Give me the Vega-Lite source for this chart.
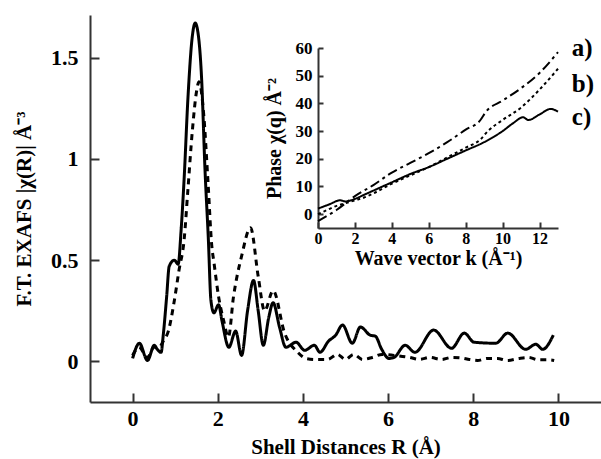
{
  "$schema": "https://vega.github.io/schema/vega-lite/v6.json",
  "width": 511,
  "height": 387,
  "autosize": {"type": "none"},
  "padding": {"left": 90, "top": 15, "right": 0, "bottom": 57},
  "background": "white",
  "config": {
    "view": {"stroke": null},
    "font": "Liberation Serif",
    "axis": {"grid": false, "domainColor": "#333", "tickColor": "#333", "labelColor": "black", "titleColor": "black", "labelFont": "Liberation Serif", "titleFont": "Liberation Serif", "labelFontWeight": "bold", "titleFontWeight": "bold"}
  },
  "datasets": {
    "main": [
      {"R": 0, "v": 0.015, "s": "solid"}, {"R": 0.16, "v": 0.09, "s": "solid"}, {"R": 0.35, "v": 0.005, "s": "solid"}, {"R": 0.51, "v": 0.08, "s": "solid"}, {"R": 0.58, "v": 0.06, "s": "solid"}, {"R": 0.67, "v": 0.045, "s": "solid"}, {"R": 0.72, "v": 0.13, "s": "solid"}, {"R": 0.8, "v": 0.32, "s": "solid"}, {"R": 0.86, "v": 0.47, "s": "solid"}, {"R": 0.98, "v": 0.5, "s": "solid"}, {"R": 1.07, "v": 0.48, "s": "solid"}, {"R": 1.14, "v": 0.65, "s": "solid"}, {"R": 1.21, "v": 0.9, "s": "solid"}, {"R": 1.3, "v": 1.3, "s": "solid"}, {"R": 1.4, "v": 1.6, "s": "solid"}, {"R": 1.47, "v": 1.67, "s": "solid"}, {"R": 1.55, "v": 1.6, "s": "solid"}, {"R": 1.62, "v": 1.4, "s": "solid"}, {"R": 1.7, "v": 0.95, "s": "solid"}, {"R": 1.78, "v": 0.6, "s": "solid"}, {"R": 1.84, "v": 0.3, "s": "solid"}, {"R": 1.91, "v": 0.24, "s": "solid"}, {"R": 2.02, "v": 0.28, "s": "solid"}, {"R": 2.1, "v": 0.2, "s": "solid"}, {"R": 2.26, "v": 0.07, "s": "solid"}, {"R": 2.42, "v": 0.15, "s": "solid"}, {"R": 2.56, "v": 0.03, "s": "solid"}, {"R": 2.7, "v": 0.25, "s": "solid"}, {"R": 2.84, "v": 0.4, "s": "solid"}, {"R": 2.95, "v": 0.25, "s": "solid"}, {"R": 3.07, "v": 0.08, "s": "solid"}, {"R": 3.2, "v": 0.22, "s": "solid"}, {"R": 3.3, "v": 0.29, "s": "solid"}, {"R": 3.45, "v": 0.17, "s": "solid"}, {"R": 3.6, "v": 0.07, "s": "solid"}, {"R": 3.84, "v": 0.095, "s": "solid"}, {"R": 4.04, "v": 0.055, "s": "solid"}, {"R": 4.27, "v": 0.08, "s": "solid"}, {"R": 4.4, "v": 0.045, "s": "solid"}, {"R": 4.6, "v": 0.1, "s": "solid"}, {"R": 4.77, "v": 0.13, "s": "solid"}, {"R": 4.93, "v": 0.18, "s": "solid"}, {"R": 5.16, "v": 0.09, "s": "solid"}, {"R": 5.35, "v": 0.17, "s": "solid"}, {"R": 5.58, "v": 0.13, "s": "solid"}, {"R": 5.7, "v": 0.125, "s": "solid"}, {"R": 5.85, "v": 0.06, "s": "solid"}, {"R": 6.02, "v": 0.015, "s": "solid"}, {"R": 6.14, "v": 0.02, "s": "solid"}, {"R": 6.4, "v": 0.08, "s": "solid"}, {"R": 6.63, "v": 0.045, "s": "solid"}, {"R": 7.07, "v": 0.155, "s": "solid"}, {"R": 7.49, "v": 0.065, "s": "solid"}, {"R": 7.79, "v": 0.14, "s": "solid"}, {"R": 8.02, "v": 0.095, "s": "solid"}, {"R": 8.53, "v": 0.09, "s": "solid"}, {"R": 8.81, "v": 0.14, "s": "solid"}, {"R": 9.23, "v": 0.06, "s": "solid"}, {"R": 9.47, "v": 0.085, "s": "solid"}, {"R": 9.63, "v": 0.06, "s": "solid"}, {"R": 9.88, "v": 0.13, "s": "solid"},
      {"R": 0, "v": 0.03, "s": "dashed"}, {"R": 0.15, "v": 0.07, "s": "dashed"}, {"R": 0.35, "v": 0.02, "s": "dashed"}, {"R": 0.5, "v": 0.07, "s": "dashed"}, {"R": 0.62, "v": 0.07, "s": "dashed"}, {"R": 0.72, "v": 0.1, "s": "dashed"}, {"R": 0.84, "v": 0.15, "s": "dashed"}, {"R": 0.98, "v": 0.3, "s": "dashed"}, {"R": 1.09, "v": 0.45, "s": "dashed"}, {"R": 1.21, "v": 0.6, "s": "dashed"}, {"R": 1.3, "v": 0.85, "s": "dashed"}, {"R": 1.4, "v": 1.13, "s": "dashed"}, {"R": 1.5, "v": 1.33, "s": "dashed"}, {"R": 1.56, "v": 1.38, "s": "dashed"}, {"R": 1.67, "v": 1.22, "s": "dashed"}, {"R": 1.77, "v": 0.89, "s": "dashed"}, {"R": 1.86, "v": 0.57, "s": "dashed"}, {"R": 1.91, "v": 0.49, "s": "dashed"}, {"R": 2.02, "v": 0.32, "s": "dashed"}, {"R": 2.14, "v": 0.2, "s": "dashed"}, {"R": 2.25, "v": 0.12, "s": "dashed"}, {"R": 2.37, "v": 0.32, "s": "dashed"}, {"R": 2.56, "v": 0.52, "s": "dashed"}, {"R": 2.77, "v": 0.66, "s": "dashed"}, {"R": 2.95, "v": 0.42, "s": "dashed"}, {"R": 3.1, "v": 0.25, "s": "dashed"}, {"R": 3.3, "v": 0.35, "s": "dashed"}, {"R": 3.57, "v": 0.14, "s": "dashed"}, {"R": 3.88, "v": 0.045, "s": "dashed"}, {"R": 4.07, "v": 0.015, "s": "dashed"}, {"R": 4.3, "v": 0.01, "s": "dashed"}, {"R": 4.58, "v": 0.01, "s": "dashed"}, {"R": 4.81, "v": 0.035, "s": "dashed"}, {"R": 5.0, "v": 0.01, "s": "dashed"}, {"R": 5.19, "v": 0.035, "s": "dashed"}, {"R": 5.4, "v": 0.01, "s": "dashed"}, {"R": 5.63, "v": 0.02, "s": "dashed"}, {"R": 5.86, "v": 0.035, "s": "dashed"}, {"R": 6.14, "v": 0.03, "s": "dashed"}, {"R": 6.5, "v": 0.02, "s": "dashed"}, {"R": 6.74, "v": 0.01, "s": "dashed"}, {"R": 6.98, "v": 0.02, "s": "dashed"}, {"R": 7.26, "v": 0.01, "s": "dashed"}, {"R": 7.49, "v": 0.02, "s": "dashed"}, {"R": 7.7, "v": 0.018, "s": "dashed"}, {"R": 7.91, "v": 0.01, "s": "dashed"}, {"R": 8.1, "v": 0.005, "s": "dashed"}, {"R": 8.33, "v": 0.015, "s": "dashed"}, {"R": 8.57, "v": 0.015, "s": "dashed"}, {"R": 8.8, "v": 0.005, "s": "dashed"}, {"R": 9.07, "v": 0.015, "s": "dashed"}, {"R": 9.3, "v": 0.02, "s": "dashed"}, {"R": 9.53, "v": 0.008, "s": "dashed"}, {"R": 9.8, "v": 0.008, "s": "dashed"}, {"R": 9.9, "v": 0.005, "s": "dashed"}
    ],
    "inset": [
      {"k": 0, "p": 2, "c": "c"}, {"k": 0.6, "p": 3.5, "c": "c"}, {"k": 1.2, "p": 5, "c": "c"}, {"k": 1.5, "p": 4.6, "c": "c"}, {"k": 2, "p": 5.5, "c": "c"}, {"k": 2.5, "p": 7, "c": "c"}, {"k": 3, "p": 8.5, "c": "c"}, {"k": 4, "p": 11.5, "c": "c"}, {"k": 5, "p": 14.5, "c": "c"}, {"k": 6, "p": 17, "c": "c"}, {"k": 7, "p": 20, "c": "c"}, {"k": 8, "p": 23, "c": "c"}, {"k": 9, "p": 26, "c": "c"}, {"k": 10, "p": 30, "c": "c"}, {"k": 10.6, "p": 33, "c": "c"}, {"k": 11.1, "p": 35, "c": "c"}, {"k": 11.4, "p": 34, "c": "c"}, {"k": 12, "p": 36, "c": "c"}, {"k": 12.6, "p": 38, "c": "c"}, {"k": 13, "p": 37, "c": "c"},
      {"k": 0, "p": 0, "c": "b"}, {"k": 0.5, "p": 1.5, "c": "b"}, {"k": 1, "p": 3, "c": "b"}, {"k": 1.5, "p": 4, "c": "b"}, {"k": 2, "p": 5, "c": "b"}, {"k": 2.5, "p": 6, "c": "b"}, {"k": 3, "p": 7.5, "c": "b"}, {"k": 4, "p": 11, "c": "b"}, {"k": 5, "p": 14, "c": "b"}, {"k": 6, "p": 17, "c": "b"}, {"k": 7, "p": 20.5, "c": "b"}, {"k": 8, "p": 24, "c": "b"}, {"k": 8.8, "p": 27, "c": "b"}, {"k": 9.2, "p": 30, "c": "b"}, {"k": 10, "p": 34, "c": "b"}, {"k": 11, "p": 38.5, "c": "b"}, {"k": 12, "p": 45, "c": "b"}, {"k": 13, "p": 52.5, "c": "b"},
      {"k": 0, "p": -2.5, "c": "a"}, {"k": 1, "p": 1.5, "c": "a"}, {"k": 2, "p": 6.5, "c": "a"}, {"k": 3, "p": 10.5, "c": "a"}, {"k": 4, "p": 15, "c": "a"}, {"k": 5, "p": 18.5, "c": "a"}, {"k": 6, "p": 22, "c": "a"}, {"k": 7, "p": 26, "c": "a"}, {"k": 8, "p": 30.5, "c": "a"}, {"k": 8.8, "p": 34, "c": "a"}, {"k": 9.1, "p": 37, "c": "a"}, {"k": 10, "p": 41, "c": "a"}, {"k": 11, "p": 45.5, "c": "a"}, {"k": 12, "p": 51, "c": "a"}, {"k": 13, "p": 58.5, "c": "a"}
    ],
    "labels": [
      {"k": 13.75, "p": 60, "t": "a)"}, {"k": 13.75, "p": 47, "t": "b)"}, {"k": 13.75, "p": 35, "t": "c)"}
    ]
  },
  "layer": [
    {
      "data": {"name": "main"},
      "mark": {"type": "line", "interpolate": "monotone", "strokeWidth": 3, "color": "black", "clip": true},
      "encoding": {
        "x": {"field": "R", "type": "quantitative", "scale": {"domain": [-1, 11], "nice": false, "zero": false},
          "axis": {"orient": "bottom", "values": [0, 2, 4, 6, 8, 10], "format": "~r", "title": "Shell Distances R (Å)", "titleFontSize": 21, "labelFontSize": 22, "tickSize": -9, "tickWidth": 2, "domainWidth": 2, "labelPadding": 15, "titlePadding": 7, "labelFlush": false}},
        "y": {"field": "v", "type": "quantitative", "scale": {"domain": [-0.2, 1.71], "nice": false, "zero": false},
          "axis": {"orient": "left", "values": [0, 0.5, 1, 1.5], "format": "~r", "title": "F.T. EXAFS |χ(R)| Å⁻³", "titleFontSize": 21, "labelFontSize": 22, "tickSize": -9, "tickWidth": 2, "domainWidth": 2, "labelPadding": 21, "titlePadding": 16, "labelFlush": false}},
        "detail": {"field": "s"},
        "strokeDash": {"field": "s", "type": "nominal", "scale": {"domain": ["solid", "dashed"], "range": [[1, 0], [6, 5]]}, "legend": null}
      }
    },
    {
      "layer": [
        {
          "data": {"name": "inset"},
          "mark": {"type": "line", "interpolate": "monotone", "strokeWidth": 2, "color": "black"},
          "encoding": {
            "x": {"field": "k", "type": "quantitative", "scale": {"domain": [0, 13], "nice": false, "zero": false, "range": [228, 468]},
              "axis": {"orient": "bottom", "offset": -174, "values": [0, 2, 4, 6, 8, 10, 12], "format": "~r", "title": "Wave vector k (Å⁻¹)", "titleFontSize": 20, "labelFontSize": 16, "tickSize": -6, "tickWidth": 2, "domainWidth": 2, "labelPadding": 8, "titlePadding": 2, "labelFlush": false}},
            "y": {"field": "p", "type": "quantitative", "scale": {"domain": [-5, 60], "nice": false, "zero": false, "range": [213, 33]},
              "axis": {"orient": "left", "offset": -228, "values": [0, 10, 20, 30, 40, 50, 60], "format": "~r", "title": "Phase χ(q) Å⁻²", "titleFontSize": 20, "labelFontSize": 17, "tickSize": -5, "tickWidth": 2, "domainWidth": 2, "labelPadding": 11, "titlePadding": 11, "labelFlush": false}},
            "detail": {"field": "c"},
            "strokeDash": {"field": "c", "type": "nominal", "scale": {"domain": ["a", "b", "c"], "range": [[10, 4, 3, 4], [3, 3], [1, 0]]}, "legend": null}
          }
        },
        {
          "data": {"name": "labels"},
          "mark": {"type": "text", "align": "left", "baseline": "middle", "fontSize": 25, "fontWeight": "bold", "font": "Liberation Serif", "color": "black"},
          "encoding": {
            "x": {"field": "k", "type": "quantitative"},
            "y": {"field": "p", "type": "quantitative"},
            "text": {"field": "t"}
          }
        }
      ]
    }
  ],
  "resolve": {"scale": {"x": "independent", "y": "independent", "strokeDash": "independent"}, "axis": {"x": "independent", "y": "independent"}}
}
